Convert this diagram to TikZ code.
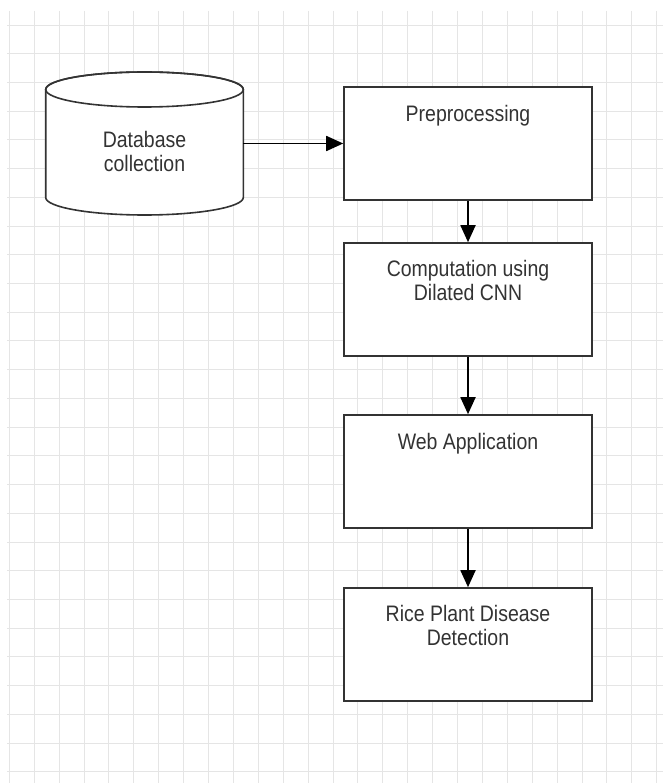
\documentclass[tikz,border=0pt]{standalone}
\usepackage{fontspec}
\usetikzlibrary{arrows.meta}
\newfontfamily\boxfont[FakeStretch=0.87]{Liberation Sans}
\tikzset{
  gridline/.style={line width=0.9pt, black!10},
  stage/.style={draw=black!80, line width=1.6pt, fill=white, inner sep=0pt,
    minimum width=248pt, minimum height=113pt},
  dbline/.style={draw=black!80, line width=1.6pt},
  caption/.style={anchor=north, inner sep=0pt, align=center, text=black!80,
    font=\boxfont\fontsize{22.4}{24}\selectfont, execute at begin node=\strut},
  flow/.style={-{Triangle[length=17pt,width=15pt]}, line width=1.8pt}
}
\begin{document}
\begin{tikzpicture}[x=1pt, y=-1pt]
  \useasboundingbox[fill=white] (0,0) rectangle (663,783);
  % background grid
  \foreach \i in {0,...,26}
    \draw[gridline] ({9.3+24.9*\i},11) -- ({9.3+24.9*\i},783);
  \foreach \j in {0,...,26}
    \draw[gridline] (7,{25+28.72*\j}) -- (663,{25+28.72*\j});

  % database drum
  \draw[dbline, fill=white] (45.7,89.5) -- (45.7,197.5)
    arc[start angle=180, end angle=0, x radius=98.8, y radius=17.5] -- (243.3,89.5)
    arc[start angle=0, end angle=-180, x radius=98.8, y radius=17.5] -- cycle;
  \draw[dbline] (144.5,89.5) ellipse [x radius=98.8, y radius=17.5];
  \coordinate (db) at (243.3,143.5);

  \node[stage] (prep) at (468,143.5) {};
  \node[stage] (cnn) at (468,299.5) {};
  \node[stage] (web) at (468,471.5) {};
  \node[stage] (rice) at (468,644.5) {};

  \node[caption] (dbTxt) at (144.5,130.9) {Database\\collection};
  \node[caption] (prepTxt) at ([yshift=-18.2pt]prep.north) {Preprocessing};
  \node[caption] (cnnTxt) at ([yshift=-18.2pt]cnn.north) {Computation using\\Dilated CNN};
  \node[caption] (webTxt) at ([yshift=-18.2pt]web.north) {Web Application};
  \node[caption] (riceTxt) at ([yshift=-18.2pt]rice.north) {Rice Plant Disease\\Detection};

  \draw[flow] (db) -- (prep);
  \draw[flow] (prep) -- (cnn);
  \draw[flow] (cnn) -- (web);
  \draw[flow] (web) -- (rice);
\end{tikzpicture}
\end{document}
